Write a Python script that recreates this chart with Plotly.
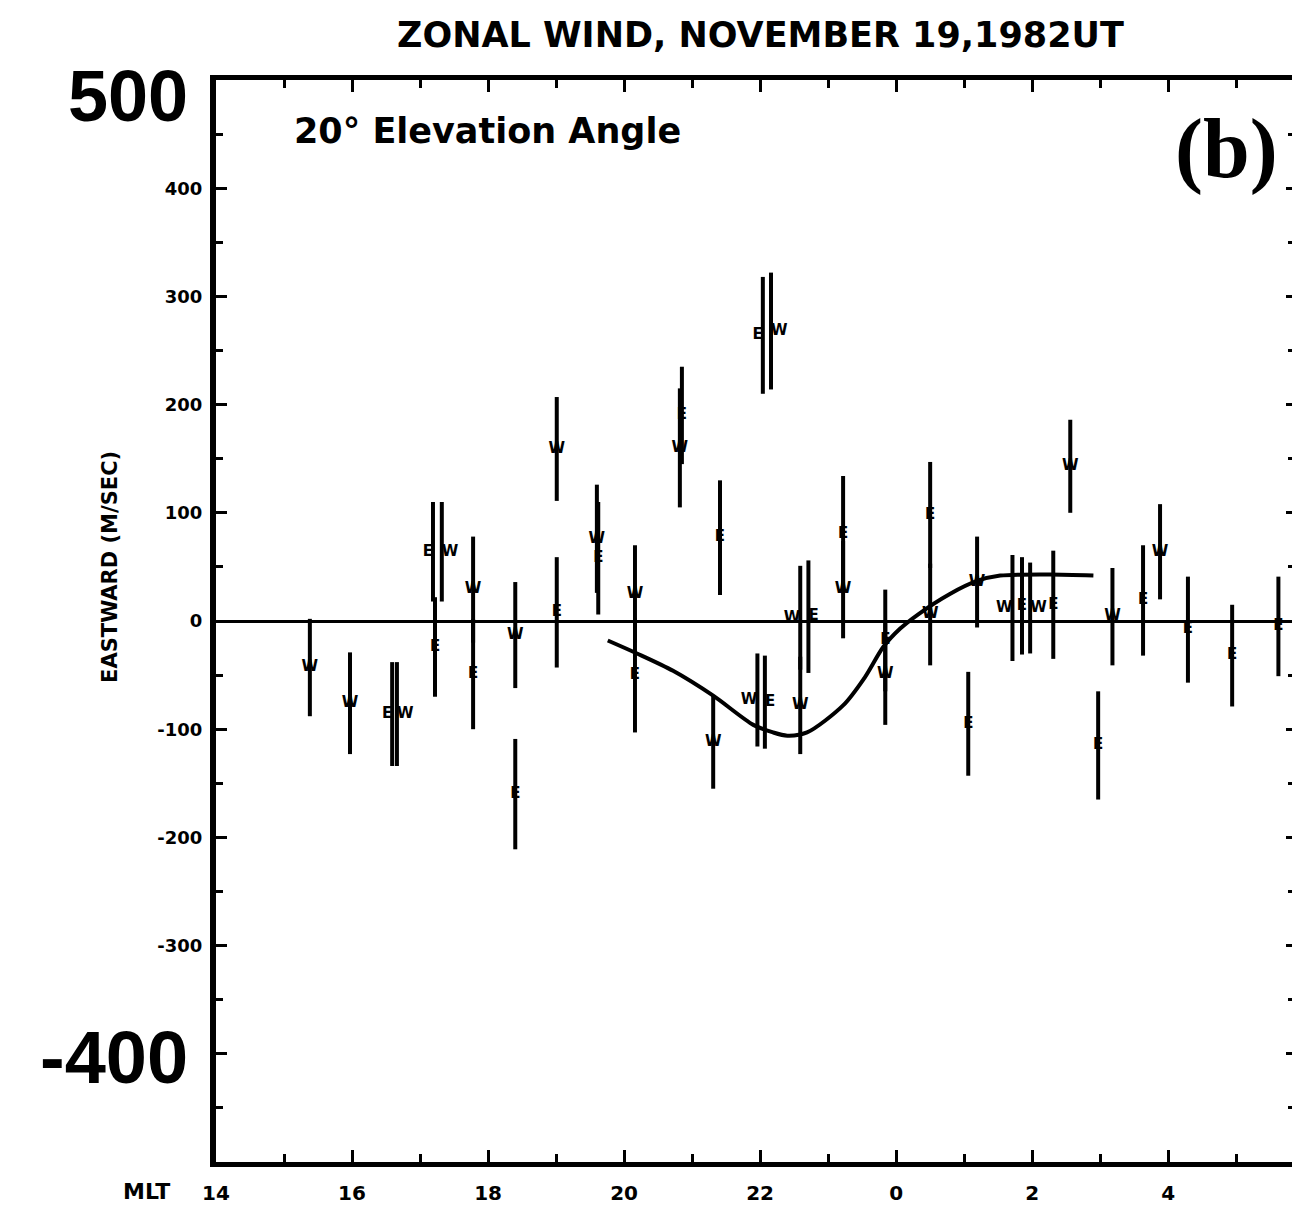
import plotly.graph_objects as go

# Fabry-Perot zonal wind measurements (20 deg elevation), MLT hours (24+ = after midnight)
east_mlt = [16.59, 17.19, 17.22, 17.78, 18.40, 19.01, 19.62, 20.16, 20.85, 21.41, 22.07, 22.04,
            22.71, 23.22, 23.84, 24.50, 25.06, 25.85, 26.31, 26.97, 27.63, 28.29, 28.94, 29.62]
east_speed = [-86, 64, -24, -49, -160, 8, 58, -50, 190, 77, -75, 264,
              4, 80, -18, 98, -95, 14, 15, -115, 19, -8, -32, -5]
east_err = [48, 46, 46, 51, 51, 51, 52, 53, 45, 53, 43, 54,
            52, 54, 47, 49, 48, 45, 50, 50, 51, 49, 47, 46]

west_mlt = [15.38, 15.97, 16.66, 17.32, 17.78, 18.40, 19.01, 19.60, 20.16, 20.82, 21.31, 21.96,
            22.16, 22.59, 22.59, 23.22, 23.84, 24.50, 25.19, 25.71, 25.97, 26.56, 27.18, 27.88]
west_speed = [-43, -76, -86, 64, 29, -13, 159, 76, 25, 160, -112, -73,
              268, 3, -78, 29, -49, 6, 36, 12, 12, 143, 4, 64]
west_err = [45, 47, 48, 46, 49, 49, 48, 50, 45, 55, 43, 43,
            54, 48, 45, 45, 47, 47, 42, 49, 42, 43, 45, 44]

# Model curve
curve_mlt = [19.76, 20.19, 20.72, 21.31, 21.90, 22.19, 22.40, 22.69, 23.22, 23.54,
             23.81, 24.06, 24.32, 24.79, 25.19, 25.53, 26.26, 26.90]
curve_speed = [-18, -30, -46, -69, -96, -103, -106, -103, -78, -52,
               -24, -7, 6, 25, 37, 42, 43, 42]

x_tickvals = [14, 16, 18, 20, 22, 24, 26, 28, 30]
x_ticktext = ["14", "16", "18", "20", "22", "0", "2", "4", "6"]
y_tickvals = [-500, -400, -300, -200, -100, 0, 100, 200, 300, 400, 500]
y_ticktext = ["", "", "-300", "-200", "-100", "0", "100", "200", "300", "400", ""]

FONT = "DejaVu Sans"
X_MIN, X_MAX = 14, 29.82
Y_MIN, Y_MAX = -500, 500


def letter_positions(n, left=(), right=()):
    """Side-step letters of coincident measurements so they sit beside each other."""
    pos = ["middle center"] * n
    for i in left:
        pos[i] = "middle left"
    for i in right:
        pos[i] = "middle right"
    return pos


east_textpos = letter_positions(len(east_mlt), left=(0, 1, 11), right=(10, 12))
west_textpos = letter_positions(len(west_mlt), left=(11, 13, 19), right=(2, 3, 12, 20))

fig = go.Figure()

fig.add_trace(go.Scatter(
    x=curve_mlt, y=curve_speed, mode="lines",
    line=dict(color="black", width=4, shape="spline", smoothing=0.8),
    hoverinfo="skip", showlegend=False,
))

for name, xs, ys, errs, tpos in (("E", east_mlt, east_speed, east_err, east_textpos),
                                 ("W", west_mlt, west_speed, west_err, west_textpos)):
    fig.add_trace(go.Scatter(
        x=xs, y=ys, mode="text", text=[name] * len(xs),
        textposition=tpos,
        textfont=dict(family=FONT, size=15, color="black", weight="bold"),
        error_y=dict(type="data", array=errs, symmetric=True, color="black",
                     thickness=4, width=0),
        showlegend=False, name=name,
    ))

axis_font = dict(family=FONT, size=18, color="black", weight="bold")

fig.update_layout(
    width=1292, height=1208,
    margin=dict(l=216, r=0, t=80, b=46),
    paper_bgcolor="white", plot_bgcolor="white",
    showlegend=False,
    xaxis=dict(
        range=[X_MIN, X_MAX], tickvals=x_tickvals, ticktext=x_ticktext,
        ticks="inside", ticklen=12, tickwidth=3, tickcolor="black",
        minor=dict(dtick=1, ticks="inside", ticklen=8, tickwidth=3, tickcolor="black"),
        showline=True, linecolor="black", linewidth=5, mirror="ticks",
        showgrid=False, zeroline=False,
        tickfont=dict(family=FONT, size=20, color="black", weight="bold"),
        ticklabelstandoff=9,
    ),
    yaxis=dict(
        range=[Y_MIN, Y_MAX], tickvals=y_tickvals, ticktext=y_ticktext,
        ticks="inside", ticklen=11, tickwidth=3, tickcolor="black",
        minor=dict(dtick=50, ticks="inside", ticklen=7, tickwidth=3, tickcolor="black"),
        showline=True, linecolor="black", linewidth=6, mirror=False,
        showgrid=False, zeroline=True, zerolinecolor="black", zerolinewidth=3,
        tickfont=axis_font, ticklabelstandoff=4,
    ),
    yaxis2=dict(
        range=[Y_MIN, Y_MAX], overlaying="y", side="right",
        tickvals=y_tickvals, showticklabels=False,
        ticks="inside", ticklen=6, tickwidth=3, tickcolor="black",
        minor=dict(dtick=50, ticks="inside", ticklen=4, tickwidth=3, tickcolor="black"),
        showline=False, showgrid=False, zeroline=False,
    ),
)

# invisible trace so the right-hand tick axis is drawn
fig.add_trace(go.Scatter(x=[X_MIN], y=[0], yaxis="y2", mode="markers",
                         marker=dict(opacity=0), hoverinfo="skip", showlegend=False))

annotations = [
    dict(text="ZONAL WIND, NOVEMBER 19,1982UT", xref="paper", yref="paper",
         x=0.5056, y=1.0416, xanchor="center", yanchor="middle",
         font=dict(family=FONT, size=35, color="black", weight="bold")),
    dict(text="20° Elevation Angle", xref="x", yref="y", x=15.12, y=453,
         xanchor="left", yanchor="middle",
         font=dict(family=FONT, size=35, color="black", weight="bold")),
    dict(text="(b)", xref="x", yref="y", x=28.85, y=436,
         xanchor="center", yanchor="middle",
         font=dict(family="Liberation Serif", size=84, color="black", weight="bold")),
    dict(text="500", xref="paper", yref="y", x=-0.0242, y=485,
         xanchor="right", yanchor="middle",
         font=dict(family="Liberation Sans", size=72, color="black", weight="bold")),
    dict(text="-400", xref="paper", yref="y", x=-0.0242, y=-403,
         xanchor="right", yanchor="middle",
         font=dict(family="Liberation Sans", size=74, color="black", weight="bold")),
    dict(text="MLT", xref="paper", yref="paper", x=-0.065, y=-0.0277,
         xanchor="center", yanchor="middle",
         font=dict(family=FONT, size=22, color="black", weight="bold")),
    dict(text="EASTWARD (M/SEC)", xref="paper", yref="y", x=-0.0985, y=50,
         xanchor="center", yanchor="middle", textangle=-90,
         font=dict(family=FONT, size=21, color="black", weight="bold")),
]
for a in annotations:
    a["showarrow"] = False
    fig.add_annotation(**a)

fig.write_html("out.html")
